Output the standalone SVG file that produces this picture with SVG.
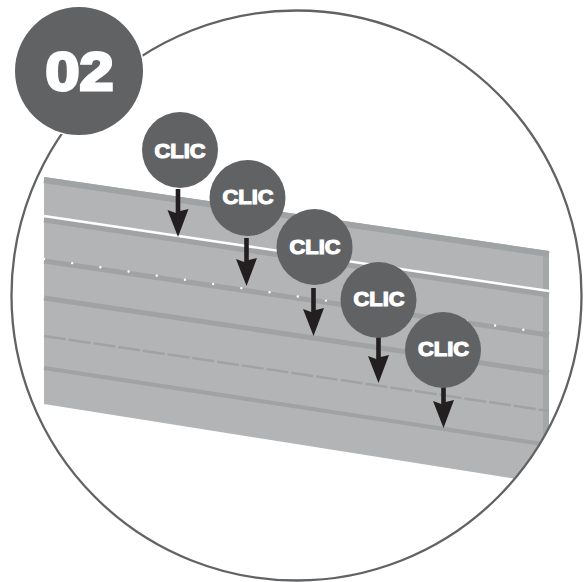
<svg xmlns="http://www.w3.org/2000/svg" width="585" height="582" viewBox="0 0 585 582">
<style>
.band{fill:none;stroke:#a0a3a3}
.node{fill:#616264}
.lbl{font-family:"Liberation Sans",Arial,sans-serif;font-weight:700;fill:#fff;stroke:#fff;text-anchor:middle}
.clic{font-size:20.5px;stroke-width:1.200px}
.arrow{fill:#231f20}
</style>
<defs>
<clipPath id="ring"><circle cx="296.500" cy="295.500" r="285"/></clipPath>
<filter id="soft" x="-2%" y="-2%" width="104%" height="104%"><feGaussianBlur stdDeviation="0.500"/></filter>
<path id="arr" d="M-2.300 0H2.300V22L10.500 20 0 48-10.500 21-2.300 24Z"/>
</defs>
<rect width="585" height="582" fill="#fff"/>
<g id="panel" clip-path="url(#ring)">
<g filter="url(#soft)">
<polygon points="44,177 549,251 549,484 44,404" fill="#b2b4b5"/>
<rect x="543" y="252" width="6" height="230" fill="#a5a8a8"/>
<path class="band" stroke-width="6" d="M44 180 549 254"/>
<path class="band" stroke-width="5" d="M44 220 549 295"/>
<path d="M44 216 549 291" fill="none" stroke="#fff" stroke-width="2.400"/>
<path class="band" stroke-width="5" d="M44 261 549 335"/>
<path d="M44 259 549 333.500" fill="none" stroke="#fff" stroke-width="2.400" stroke-linecap="round" stroke-dasharray="0 28.500"/>
<path class="band" stroke-width="5" d="M44 298 549 373"/>
<path class="band" stroke-width="2.500" stroke-dasharray="22 3" d="M44 336 549 411"/>
<path class="band" stroke-width="4" d="M44 368 549 445"/>
</g>
</g>
<circle id="outline" cx="296.500" cy="295.500" r="285" fill="none" stroke="#616264" stroke-width="2.300"/>
<g id="connectors" class="arrow">
<use href="#arr" x="178" y="189"/>
<use href="#arr" x="246.500" y="238"/>
<use href="#arr" x="313.500" y="288"/>
<use href="#arr" x="378.500" y="335"/>
<use href="#arr" x="443.500" y="380"/>
</g>
<g id="badge">
<circle cx="79" cy="71" r="65.500" fill="#fff"/>
<circle class="node" cx="79" cy="71" r="64"/>
<text class="lbl" x="79.500" y="90" font-size="54" stroke-width="3" textLength="68" lengthAdjust="spacingAndGlyphs">02</text>
</g>
<g id="clic1"><circle class="node" cx="180" cy="150" r="38"/><text class="lbl clic" x="180" y="158" textLength="51" lengthAdjust="spacingAndGlyphs">CLIC</text></g>
<g id="clic2"><circle class="node" cx="247.500" cy="198" r="38"/><text class="lbl clic" x="248" y="203.500" textLength="51" lengthAdjust="spacingAndGlyphs">CLIC</text></g>
<g id="clic3"><circle class="node" cx="314.500" cy="247" r="38"/><text class="lbl clic" x="315" y="254" textLength="51" lengthAdjust="spacingAndGlyphs">CLIC</text></g>
<g id="clic4"><circle class="node" cx="378.500" cy="300" r="38"/><text class="lbl clic" x="379" y="306" textLength="51" lengthAdjust="spacingAndGlyphs">CLIC</text></g>
<g id="clic5"><circle class="node" cx="443" cy="350" r="38"/><text class="lbl clic" x="443.500" y="356" textLength="51" lengthAdjust="spacingAndGlyphs">CLIC</text></g>
</svg>
